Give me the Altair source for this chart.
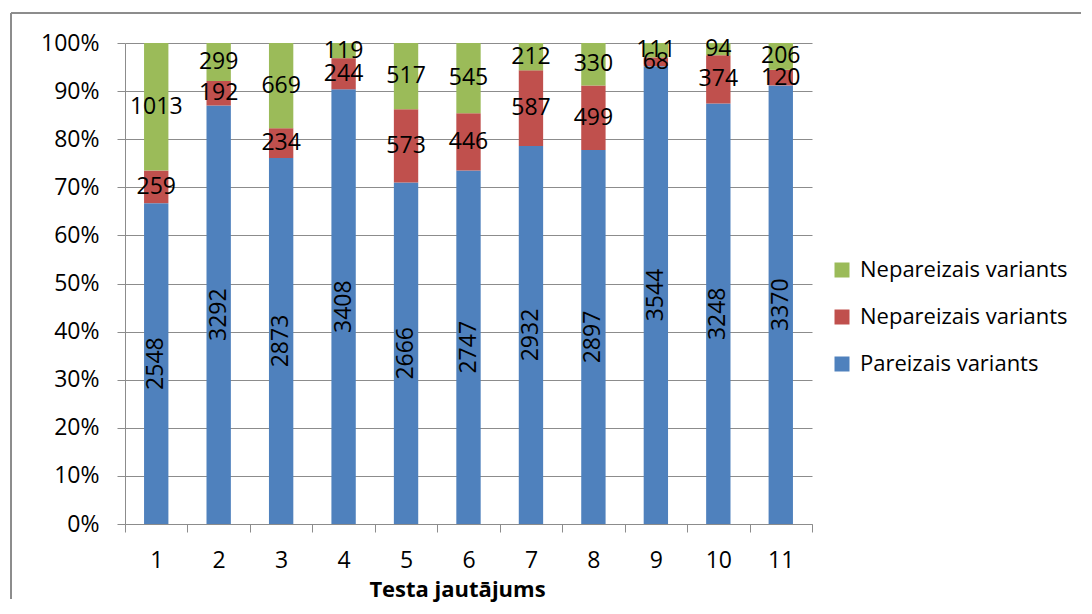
import altair as alt
import pandas as pd

questions = ["1", "2", "3", "4", "5", "6", "7", "8", "9", "10", "11"]
pareizais = [2548, 3292, 2873, 3408, 2666, 2747, 2932, 2897, 3544, 3248, 3370]
nepareizais_a = [259, 192, 234, 244, 573, 446, 587, 499, 68, 374, 120]
nepareizais_b = [1013, 299, 669, 119, 517, 545, 212, 330, 111, 94, 206]

series_keys = ["s0", "s1", "s2"]
series_labels = ["Pareizais variants", "Nepareizais variants", "Nepareizais variants"]
series_colors = ["#4F81BD", "#C0504D", "#9BBB59"]
y_ticks = [0, 0.1, 0.2, 0.3, 0.4, 0.5, 0.6, 0.7, 0.8, 0.9, 1.0]

rows = []
for i, q in enumerate(questions):
    vals = [pareizais[i], nepareizais_a[i], nepareizais_b[i]]
    total = sum(vals)
    cum = 0
    for k, v in enumerate(vals):
        mid = (cum + v / 2) / total
        cum += v
        rows.append({"q": q, "series": series_keys[k], "ord": k, "value": v, "mid": mid})
df = pd.DataFrame(rows)

FONT = "Open Sans"
GRAY = "#8C8C8C"

label_expr = "datum.value == 's0' ? 'Pareizais variants' : 'Nepareizais variants'"

x_scale = alt.Scale(domain=questions, paddingInner=0, paddingOuter=0)
y_scale = alt.Scale(domain=[0, 1])

x_axis = alt.Axis(title="Testa jautājums", labelAngle=0, tickBand="extent",
                  tickSize=8, labelPadding=17, titlePadding=7,
                  titleX=332, titleAlign="center",
                  titleFont=FONT, titleFontSize=22, titleFontWeight="bold",
                  titleColor="black")
y_axis = alt.Axis(title=None, format="%", values=y_ticks, grid=True,
                  tickSize=8, labelPadding=18)

bars = alt.Chart(df).mark_bar(width=alt.RelativeBandSize(0.39)).encode(
    x=alt.X("q:N", sort=questions, scale=x_scale, axis=x_axis),
    y=alt.Y("value:Q", stack="normalize", scale=y_scale, axis=y_axis),
    color=alt.Color("series:N",
                    scale=alt.Scale(domain=["s2", "s1", "s0"],
                                    range=[series_colors[2], series_colors[1], series_colors[0]]),
                    legend=alt.Legend(title=None, labelExpr=label_expr, orient="none",
                                      legendX=706, legendY=216, symbolType="square",
                                      symbolSize=225, symbolStrokeWidth=0,
                                      labelFont=FONT, labelFontSize=22, labelColor="black",
                                      labelLimit=0, rowPadding=25, labelOffset=7)),
    order=alt.Order("ord:Q", sort="ascending"),
)

text_blue = alt.Chart(df).transform_filter("datum.series == 's0'").mark_text(
    angle=270, align="center", baseline="middle", font=FONT, fontSize=23, color="black"
).encode(
    x=alt.X("q:N", sort=questions, scale=x_scale, axis=x_axis),
    y=alt.Y("mid:Q", scale=y_scale, axis=y_axis),
    text=alt.Text("value:Q"),
)

text_other = alt.Chart(df).transform_filter("datum.series != 's0'").mark_text(
    align="center", baseline="middle", font=FONT, fontSize=23, color="black"
).encode(
    x=alt.X("q:N", sort=questions, scale=x_scale, axis=x_axis),
    y=alt.Y("mid:Q", scale=y_scale, axis=y_axis),
    text=alt.Text("value:Q"),
)

border_left = alt.Chart(df).mark_rule(color=GRAY, strokeWidth=1).encode(
    x=alt.value(-114), y=alt.value(-30), y2=alt.value(556)
)
border_top = alt.Chart(df).mark_rule(color=GRAY, strokeWidth=1).encode(
    x=alt.value(-114), x2=alt.value(956), y=alt.value(-30)
)

chart = alt.layer(bars, text_blue, text_other, border_left, border_top).properties(
    width=687, height=481, padding={"left": 2, "top": 4, "right": 0, "bottom": 5}
).configure_view(stroke=None).configure_axis(
    labelFont=FONT, labelFontSize=23, labelColor="black",
    domainColor=GRAY, tickColor=GRAY, gridColor=GRAY, domainWidth=1, gridWidth=1,
).configure_axisX(grid=False)

chart.save("out.html", embed_options={"renderer": "svg", "actions": False})
